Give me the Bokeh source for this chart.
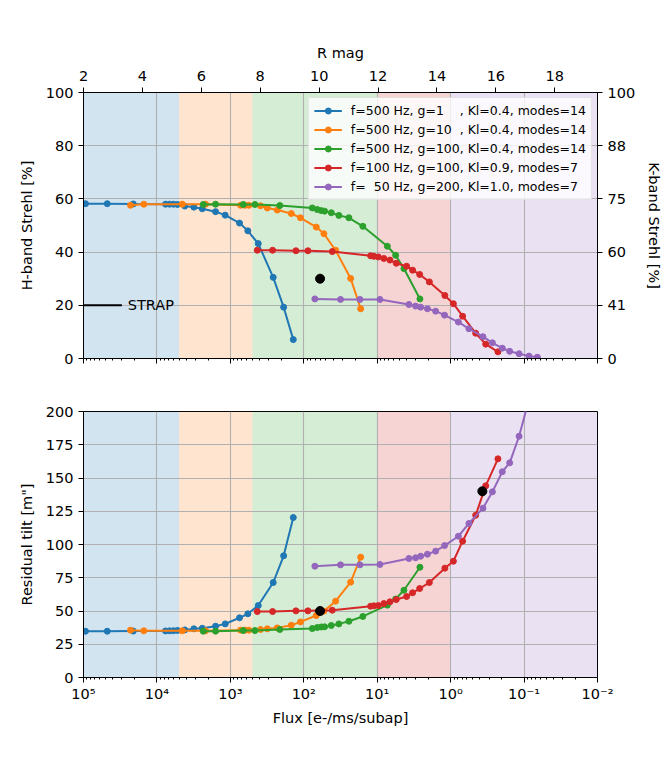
import numpy as np
from bokeh.plotting import figure
from bokeh.models import Range1d, LinearAxis, LinearScale, FixedTicker, BoxAnnotation
from bokeh.layouts import column
from bokeh.embed import file_html
from bokeh.resources import INLINE
from bokeh.core.properties import value

FONT = "DejaVu Sans"
COLORS = ["#1f77b4", "#ff7f0e", "#2ca02c", "#d62728", "#9467bd"]
TICK_FS = "14.5px"
LABEL_FS = "14.5px"
LEGEND_FS = "12.5px"

# ---------------- data ----------------
labels = [
    "f=500 Hz, g=1    , Kl=0.4, modes=14",
    "f=500 Hz, g=10  , Kl=0.4, modes=14",
    "f=500 Hz, g=100, Kl=0.4, modes=14",
    "f=100 Hz, g=100, Kl=0.9, modes=7",
    "f=  50 Hz, g=200, Kl=1.0, modes=7",
]

flux_g1 = [94000, 47500, 21000, 7640, 6730, 5940, 5240, 4170, 3140, 2415, 1590,
           1175, 750, 578, 417, 261, 188, 139]
strehl_g1 = [58.2, 58.2, 58.1, 58.0, 58.0, 58.0, 57.9, 57.3, 56.9, 56.3, 55.2,
             53.9, 50.9, 48.0, 43.2, 30.5, 19.3, 7.1]
tilt_g1 = [34.8, 34.8, 34.9, 35.0, 35.1, 35.2, 35.4, 35.8, 36.6, 37.0, 38.6,
           40.3, 44.9, 47.9, 54.1, 71.4, 91.5, 120.3]

flux_g10 = [22900, 15070, 4520, 2180, 726, 634, 560, 388, 314, 230, 148, 111,
            67.6, 53.2, 36.9, 23.0, 16.8]
strehl_g10 = [57.6, 58.0, 58.0, 58.0, 57.6, 57.6, 57.6, 57.4, 56.6, 55.8, 54.5,
              52.9, 49.4, 46.9, 40.7, 30.1, 18.7]
tilt_g10 = [35.6, 35.1, 35.1, 35.1, 35.6, 35.6, 35.6, 36.1, 36.6, 37.3, 39.3,
            41.8, 46.6, 49.9, 57.4, 71.7, 90.5]

flux_g100 = [2340, 1590, 667, 463, 212, 76.6, 65.5, 57.8, 52.1, 42.2, 33.3,
             24.3, 15.7, 7.28, 5.61, 4.33, 2.62]
strehl_g100 = [57.9, 58.0, 57.9, 57.9, 57.5, 56.6, 56.0, 55.6, 55.4, 54.8, 53.8,
               52.9, 49.7, 42.2, 38.8, 33.8, 22.4]
tilt_g100 = [34.8, 34.8, 35.3, 35.3, 36.1, 36.8, 37.6, 38.0, 38.1, 39.1, 40.3,
             42.3, 45.9, 54.4, 59.0, 65.6, 82.9]

flux_f100 = [430, 266, 128, 87.9, 40.9, 12.3, 11.1, 9.66, 8.11, 6.71, 5.50,
             3.98, 3.30, 2.64, 1.95, 1.20, 0.918, 0.687, 0.456, 0.333, 0.227]
strehl_f100 = [40.7, 40.7, 40.5, 40.5, 40.2, 38.6, 38.4, 38.2, 37.6, 37.0, 35.8,
               34.7, 33.2, 31.6, 28.8, 23.7, 20.6, 15.9, 9.5, 5.4, 2.5]
tilt_f100 = [49.6, 49.6, 50.1, 50.1, 50.6, 53.6, 53.9, 54.1, 55.6, 56.9, 58.6,
             60.9, 63.7, 66.9, 71.4, 82.2, 87.4, 102.5, 122.0, 144.1, 164.4]

flux_f50 = [70.6, 31.6, 17.2, 9.18, 3.70, 3.00, 2.56, 2.07, 1.60, 1.21, 0.785,
            0.564, 0.363, 0.270, 0.198, 0.157, 0.117, 0.0857, 0.0659]
strehl_f50 = [22.4, 22.2, 22.2, 22.2, 20.3, 19.7, 19.3, 18.7, 17.8, 16.3, 13.7,
              11.2, 8.2, 5.9, 3.9, 2.7, 1.8, 0.9, 0.5]
tilt_f50 = [83.7, 84.7, 84.7, 85.0, 89.5, 90.0, 91.2, 92.7, 95.0, 99.2, 106.2,
            115.8, 127.3, 139.6, 154.7, 161.4, 181.4, 209.0, 240.0]

series_flux = [flux_g1, flux_g10, flux_g100, flux_f100, flux_f50]
series_strehl = [strehl_g1, strehl_g10, strehl_g100, strehl_f100, strehl_f50]
series_tilt = [tilt_g1, tilt_g10, tilt_g100, tilt_f100, tilt_f50]

# black reference points
ref_strehl_flux = [60.0]
ref_strehl = [30.0]
ref_tilt_flux = [60.0, 0.37]
ref_tilt = [50.0, 140.0]

# STRAP marker
strap_flux = [1e5, 3e4]
strap_strehl = [20, 20]
strap_text_flux = [2.5e4]

# magnitude bands (flux edges)
band_edges = [1e5, 5e3, 5e2, 1e1, 1e0, 1e-2]

# axes
flux_range = (1e5, 1e-2)
rmag_range = (2, 19.45)
rmag_ticks = [2, 4, 6, 8, 10, 12, 14, 16, 18]
strehl_ticks = [0, 20, 40, 60, 80, 100]
kband_labels = ["0", "41", "60", "75", "88", "100"]
tilt_ticks = [0, 25, 50, 75, 100, 125, 150, 175, 200]
decades = [1e5, 1e4, 1e3, 1e2, 1e1, 1e0, 1e-1, 1e-2]
decade_labels = ["10⁵", "10⁴", "10³", "10²", "10¹", "10⁰", "10⁻¹", "10⁻²"]
minor_flux = [m * 10.0 ** k for k in range(-2, 5) for m in range(2, 10)]


def style_axis(ax, label_standoff=5, title_standoff=8):
    ax.axis_label_text_font = FONT
    ax.axis_label_text_font_size = LABEL_FS
    ax.axis_label_text_font_style = "normal"
    ax.axis_label_text_color = "black"
    ax.major_label_text_font = FONT
    ax.major_label_text_font_size = TICK_FS
    ax.major_label_text_color = "black"
    ax.axis_line_color = "black"
    ax.axis_line_width = 1
    ax.major_tick_line_color = "black"
    ax.major_tick_in = 0
    ax.major_tick_out = 5
    ax.minor_tick_in = 0
    ax.minor_tick_out = 2
    ax.minor_tick_line_color = "black"
    ax.major_label_standoff = label_standoff
    ax.axis_label_standoff = title_standoff


def make_fig(y_lo, y_hi, border_top, border_bottom):
    p = figure(x_axis_type="log", x_range=xr, y_range=Range1d(y_lo, y_hi),
               frame_width=514, frame_height=266,
               min_border_left=83, min_border_right=62,
               min_border_top=border_top, min_border_bottom=border_bottom,
               output_backend="svg", toolbar_location=None)
    p.outline_line_color = "black"
    p.outline_line_width = 1
    p.background_fill_color = "white"
    for g in p.grid:
        g.grid_line_color = "#b0b0b0"
        g.grid_line_width = 1.1
        g.level = "underlay"
    for i in range(len(band_edges) - 1):
        p.add_layout(BoxAnnotation(left=band_edges[i], right=band_edges[i + 1],
                                   fill_color=COLORS[i], fill_alpha=0.2,
                                   line_color=None, level="image"))
    return p


xr = Range1d(*flux_range)

# ---------------- top panel ----------------
p1 = make_fig(0, 100, 92, 25)
log_ticker = FixedTicker(ticks=decades, minor_ticks=minor_flux)
bx = p1.below[0]
bx.ticker = log_ticker
bx.major_label_overrides = {d: "" for d in decades}
style_axis(bx)
p1.xgrid.ticker = log_ticker

ly = p1.left[0]
ly.ticker = FixedTicker(ticks=strehl_ticks)
ly.axis_label = "H-band Strehl [%]"
style_axis(ly)
ly.minor_tick_line_color = None
p1.ygrid.ticker = FixedTicker(ticks=strehl_ticks)

p1.extra_x_ranges = {"rmag": Range1d(*rmag_range)}
p1.extra_x_scales = {"rmag": LinearScale()}
top_ax = LinearAxis(x_range_name="rmag", axis_label="R mag",
                    ticker=FixedTicker(ticks=rmag_ticks))
style_axis(top_ax, 7, 7)
top_ax.minor_tick_line_color = None
p1.add_layout(top_ax, "above")

right_ax = LinearAxis(ticker=FixedTicker(ticks=strehl_ticks), axis_label="K-band Strehl [%]",
                      major_label_overrides=dict(zip(strehl_ticks, kband_labels)))
style_axis(right_ax)
right_ax.minor_tick_line_color = None
p1.add_layout(right_ax, "right")

for fl, st, c, lab in zip(series_flux, series_strehl, COLORS, labels):
    p1.line(fl, st, line_color=c, line_width=2, legend_label=lab)
    p1.scatter(fl, st, fill_color=c, line_color=c, size=6, legend_label=lab)

p1.scatter(ref_strehl_flux, ref_strehl, fill_color="black", line_color="black", size=9)
p1.line(strap_flux, strap_strehl, line_color="black", line_width=2)
p1.text(x=strap_text_flux, y=[strap_strehl[0]], text=["STRAP"], text_baseline="middle",
        text_align="left", text_font=value(FONT), text_font_size=LABEL_FS, text_color="black")

lg = p1.legend[0]
lg.location = "top_right"
lg.margin = 5
lg.padding = 5
lg.spacing = 4
lg.glyph_height = 15
lg.glyph_width = 28
lg.label_height = 15
lg.label_standoff = 9
lg.label_text_font = FONT
lg.label_text_font_size = LEGEND_FS
lg.label_text_color = "black"
lg.border_line_color = "#cccccc"
lg.border_line_width = 1
lg.background_fill_color = "white"
lg.background_fill_alpha = 0.8

# ---------------- bottom panel ----------------
p2 = make_fig(0, 200, 28, 55)
bx2 = p2.below[0]
bx2.ticker = log_ticker
bx2.axis_label = "Flux [e-/ms/subap]"
bx2.major_label_overrides = dict(zip(decades, decade_labels))
style_axis(bx2, 3, 5)
p2.xgrid.ticker = log_ticker

ly2 = p2.left[0]
ly2.ticker = FixedTicker(ticks=tilt_ticks)
ly2.axis_label = 'Residual tilt [m"]'
style_axis(ly2)
ly2.minor_tick_line_color = None
p2.ygrid.ticker = FixedTicker(ticks=tilt_ticks)

for fl, tl, c in zip(series_flux, series_tilt, COLORS):
    p2.line(fl, tl, line_color=c, line_width=2)
    p2.scatter(fl, tl, fill_color=c, line_color=c, size=6)
p2.scatter(ref_tilt_flux, ref_tilt, fill_color="black", line_color="black", size=9)

layout = column(p1, p2)
open("out.html", "w").write(file_html(layout, INLINE))
